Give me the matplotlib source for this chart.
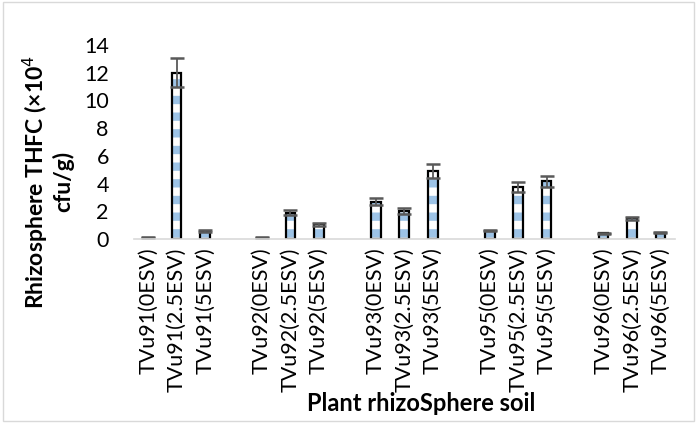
import numpy as np
import matplotlib.pyplot as plt
from matplotlib.patches import Rectangle

plt.rcParams['font.family'] = ['Lato', 'DejaVu Sans']
plt.rcParams['hatch.linewidth'] = 6.0

labels = ['TVu91(0ESV)', 'TVu91(2.5ESV)', 'TVu91(5ESV)', '',
          'TVu92(0ESV)', 'TVu92(2.5ESV)', 'TVu92(5ESV)', '',
          'TVu93(0ESV)', 'TVu93(2.5ESV)', 'TVu93(5ESV)', '',
          'TVu95(0ESV)', 'TVu95(2.5ESV)', 'TVu95(5ESV)', '',
          'TVu96(0ESV)', 'TVu96(2.5ESV)', 'TVu96(5ESV)']
values = [0.1, 12.0, 0.6, np.nan,
          0.08, 1.9, 1.05, np.nan,
          2.7, 2.0, 4.9, np.nan,
          0.6, 3.75, 4.15, np.nan,
          0.42, 1.5, 0.45]
errors = [0.03, 1.05, 0.08, np.nan,
          0.03, 0.2, 0.1, np.nan,
          0.25, 0.2, 0.5, np.nan,
          0.05, 0.35, 0.4, np.nan,
          0.04, 0.1, 0.05]

fig = plt.figure(figsize=(6.97, 4.23), dpi=100)
ax = fig.add_axes([0.192, 0.435, 0.776, 0.459])

x = np.arange(len(labels))
vals = np.array(values)
errs = np.array(errors)
mask = ~np.isnan(vals)
# patterned fill, then a black outline on top
ax.bar(x[mask], vals[mask], width=0.34, color='#9DC3E6', edgecolor='white',
       hatch='-', linewidth=0)
ax.bar(x[mask], vals[mask], width=0.34, color='none', edgecolor='black', linewidth=1.6)
ax.errorbar(x[mask], vals[mask], yerr=errs[mask], fmt='none', ecolor='#595959',
            elinewidth=1.3, capsize=5, capthick=1.8)

ax.set_xlim(-0.5, len(labels) - 0.5)
ax.set_ylim(0, 14)
ax.set_yticks(np.arange(0, 15, 2))
ax.set_xticks(x)
ax.set_xticklabels(labels, rotation=90, fontsize=15.5)
ax.tick_params(axis='y', length=0, labelsize=15.5, pad=18)
ax.tick_params(axis='x', length=0, pad=6)
for s in ['top', 'right', 'left']:
    ax.spines[s].set_visible(False)
ax.spines['bottom'].set_color('#D9D9D9')
ax.spines['bottom'].set_linewidth(1.2)

fig.text(0.068, 0.57, 'Rhizosphere THFC (×10$^4$\ncfu/g)', rotation=90,
         ha='center', va='center', multialignment='center', fontsize=16.5,
         fontweight='bold', linespacing=1.1)
fig.text(0.605, 0.047, 'Plant rhizoSphere soil', ha='center', va='center',
         fontsize=17, fontweight='bold')

fig.patches.append(Rectangle((0.004, 0.004), 0.992, 0.992, transform=fig.transFigure,
                             fill=False, edgecolor='#D9D9D9', linewidth=1))

fig.savefig('out.png', dpi=100)
